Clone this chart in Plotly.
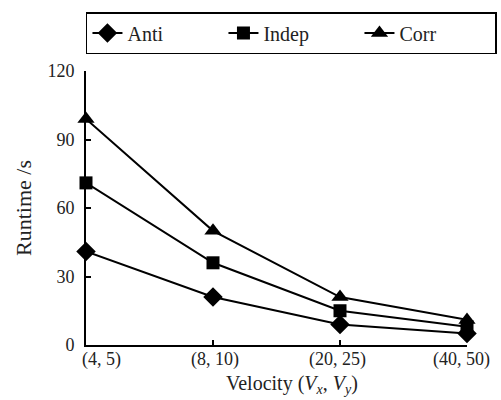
import plotly.graph_objects as go

# Runtime for each velocity setting, one list per data distribution
velocity = ["(4, 5)", "(8, 10)", "(20, 25)", "(40, 50)"]
anti = [41, 21, 9, 5]
indep = [71, 36, 15, 8]
corr = [99, 50, 21, 11]

series = [
    ("Anti", anti, "diamond", 15),
    ("Indep", indep, "square", 13),
    ("Corr", corr, "triangle-up", 15),
]

fig = go.Figure()
for name, vals, sym, sz in series:
    fig.add_trace(go.Scatter(
        x=list(range(len(velocity))), y=vals, name=name,
        mode="lines+markers",
        line=dict(color="black", width=2),
        marker=dict(symbol=sym, size=sz, color="black"),
        cliponaxis=False,
    ))

serif = "Liberation Serif"
font = dict(family=serif, size=18, color="#222")

# Category labels under the x axis; the outer ones are nudged inward so they
# stay clear of the y-axis labels and the right edge.
label_shift = [15, 2, -3, -6]
for i, (lab, dx) in enumerate(zip(velocity, label_shift)):
    fig.add_annotation(
        x=i, xref="x", y=0, yref="paper", yanchor="top", yshift=-2,
        xshift=dx, text=lab, showarrow=False, font=font,
    )

fig.add_annotation(
    x=0.54, xref="paper", y=0, yref="paper", yanchor="top", yshift=-25,
    text="Velocity (<i>V</i><sub><i>x</i></sub>, <i>V</i><sub><i>y</i></sub>)",
    showarrow=False, font=dict(family=serif, size=20, color="#222"),
)

fig.update_layout(
    width=501, height=400,
    margin=dict(l=86, r=34, t=65, b=55),
    paper_bgcolor="white", plot_bgcolor="white",
    font=font,
    showlegend=True,
    legend=dict(
        orientation="h", x=-0.0001, xanchor="left", y=1.215, yanchor="top",
        bordercolor="black", borderwidth=1.5,
        entrywidth=91, entrywidthmode="pixels",
        font=dict(family=serif, size=20, color="#222"),
    ),
    xaxis=dict(
        range=[0, 3], tickmode="array",
        tickvals=list(range(len(velocity))), showticklabels=False,
        showgrid=False, zeroline=False,
        showline=True, linecolor="black", linewidth=2,
        ticks="inside", ticklen=5, tickcolor="black", tickwidth=1.5,
    ),
    yaxis=dict(
        range=[0, 120], tickvals=[0, 30, 60, 90, 120],
        showgrid=False, zeroline=False,
        showline=True, linecolor="black", linewidth=2,
        ticks="inside", ticklen=5, tickcolor="black", tickwidth=1.5,
        ticklabelstandoff=6,
        title=dict(text="Runtime /s", standoff=10),
    ),
)

fig.write_html("out.html")
